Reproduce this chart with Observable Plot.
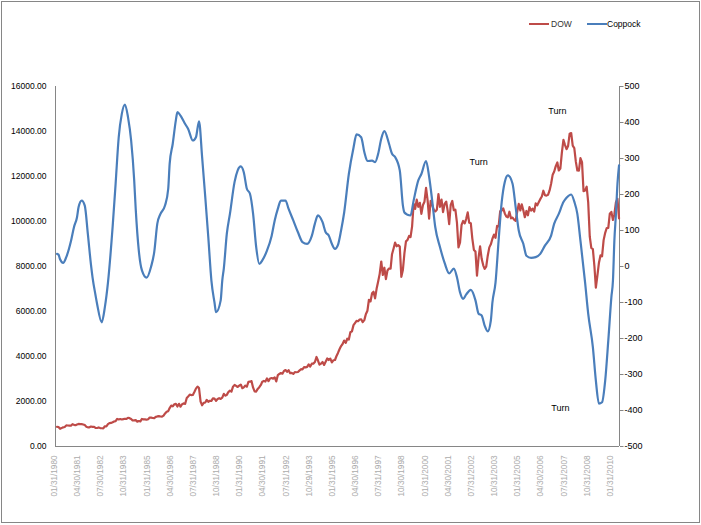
<!DOCTYPE html>
<html><head><meta charset="utf-8">
<script src="https://cdn.jsdelivr.net/npm/d3@7"></script>
<script src="https://cdn.jsdelivr.net/npm/@observablehq/plot@0.6"></script>
<style>
body{margin:0;background:#fff;font-family:"Liberation Sans",Arial,sans-serif;}
#wrap{position:relative;width:701px;height:525px;overflow:hidden;}
#chart{position:absolute;left:0;top:0;}
#border{position:absolute;left:1px;top:1px;width:697px;height:520px;border:1px solid #868686;pointer-events:none;}
.sw{position:absolute;height:2.5px;width:20px;top:22.5px;}
.lt{position:absolute;top:18.5px;font-size:8.5px;color:#000;line-height:10px;}
</style></head>
<body>
<div id="wrap">
  <div id="chart"></div>
  <div id="border"></div>
  <div class="sw" style="left:529px;background:#BE4B48"></div>
  <div class="lt" style="left:551px;color:#333">DOW</div>
  <div class="sw" style="left:587px;background:#4A7EBB"></div>
  <div class="lt" style="left:607px">Coppock</div>
</div>
<script>
// DOW monthly closes, Jan 1980 .. May 2010
const dowStart = "1980-01";
const dowValues = [
876,863,786,817,851,868,935,933,932,925,993,964,
947,975,1004,998,992,977,952,882,850,853,889,875,
871,824,823,848,820,812,809,901,896,992,1039,1047,
1076,1113,1130,1226,1200,1222,1199,1216,1233,1225,1276,1259,
1221,1155,1165,1171,1105,1132,1115,1224,1207,1207,1189,1212,
1287,1284,1267,1258,1315,1336,1348,1334,1329,1375,1472,1547,
1571,1709,1819,1784,1877,1893,1775,1898,1768,1878,1914,1896,
2158,2224,2305,2286,2292,2419,2572,2663,2596,1994,1834,1939,
1958,2072,1988,2032,2031,2142,2129,2032,2113,2149,2115,2169,
2342,2258,2294,2419,2480,2440,2661,2737,2693,2645,2706,2753,
2591,2627,2707,2657,2877,2881,2905,2614,2453,2442,2560,2634,
2736,2882,2914,2888,3028,2907,3025,3044,3017,3069,2895,3169,
3224,3267,3236,3359,3397,3319,3394,3257,3272,3226,3305,3301,
3310,3371,3435,3428,3527,3516,3540,3651,3555,3681,3684,3754,
3978,3832,3636,3682,3758,3625,3765,3913,3843,3908,3739,3834,
3844,4011,4158,4321,4465,4556,4709,4611,4789,4756,5075,5117,
5395,5486,5587,5569,5643,5655,5529,5616,5882,6029,6522,6448,
6813,6878,6584,7009,7331,7673,8223,7622,7945,7442,7823,7908,
7907,8546,8800,9063,8900,8952,8883,7539,7843,8592,9117,9181,
9359,9307,9786,10789,10560,10971,10655,10829,10337,10730,10878,11497,
10941,10128,10922,10734,10522,10448,10522,11215,10651,10971,10415,10787,
10887,10495,9879,10735,10912,10502,10523,9950,8848,9075,9852,10022,
9920,10106,10404,9946,9925,9243,8737,8664,7592,8397,8896,8342,
8054,7891,7992,8480,8850,8985,9234,9416,9275,9801,9782,10454,
10488,10584,10358,10226,10188,10435,10140,10174,10080,10027,10428,10783,
10490,10766,10504,10193,10467,10275,10641,10482,10569,10440,10806,10718,
10865,10993,11109,11367,11168,11150,11186,11381,11679,12081,12222,12463,
12622,12269,12354,13063,13628,13409,13212,13358,13896,13930,13372,13265,
12650,12266,12263,12820,12638,11350,11378,11544,10851,9325,8829,8776,
8001,7063,7609,8168,8500,8447,9172,9496,9712,9713,10345,10428,
10067,10325,10857,11009,10137
];

// Coppock curve (month, value)
const copMonths = [
"1980-01","1980-02","1980-03","1980-05","1980-07","1980-10","1980-12","1981-02","1981-03","1981-05",
"1981-07","1981-09","1981-11","1981-12","1982-02","1982-03","1982-06","1982-08","1982-10","1983-01",
"1983-03","1983-05","1983-07","1983-09","1983-11","1984-01","1984-03","1984-04","1984-06","1984-08",
"1984-11","1985-02","1985-04","1985-06","1985-08","1985-11","1986-01","1986-02","1986-04","1986-06",
"1986-07","1986-09","1986-12","1987-02","1987-05","1987-07","1987-09","1987-11","1988-01","1988-03",
"1988-05","1988-07","1988-08","1988-11","1988-12","1989-01","1989-03","1989-05","1989-08","1989-10",
"1989-12","1990-02","1990-04","1990-06","1990-08","1990-10","1990-12","1991-02","1991-05","1991-08",
"1991-10","1991-12","1992-02","1992-05","1992-07","1992-10","1993-01","1993-04","1993-07","1993-10",
"1993-12","1994-02","1994-05","1994-07","1994-09","1994-11","1995-01","1995-03","1995-05","1995-07",
"1995-10","1996-01","1996-03","1996-06","1996-08","1996-10","1997-01","1997-03","1997-05","1997-07",
"1997-09","1997-12","1998-02","1998-04","1998-07","1998-09","1998-10","1998-12","1999-02","1999-04",
"1999-07","1999-09","1999-12","2000-02","2000-04","2000-06","2000-09","2000-12","2001-03","2001-06",
"2001-08","2001-10","2001-12","2002-02","2002-05","2002-08","2002-10","2002-12","2003-02","2003-04",
"2003-06","2003-07","2003-09","2003-11","2004-01","2004-03","2004-05","2004-08","2004-10","2004-12",
"2005-03","2005-05","2005-08","2005-11","2006-02","2006-05","2006-09","2006-11","2007-02","2007-05",
"2007-07","2007-10","2007-12","2008-02","2008-04","2008-07","2008-09","2008-12","2009-02","2009-04",
"2009-06","2009-08","2009-10","2009-12","2010-01","2010-02","2010-03","2010-04","2010-05"
];
const copValues = [
35,33,20,10,26,70,110,137,165,183,
169,90,5,-30,-80,-104,-155,-113,-45,110,
230,359,424,450,415,350,240,160,44,-11,
-31,0,40,119,146,170,216,285,341,406,
429,419,396,382,350,359,403,304,193,81,
-39,-100,-127,-94,-39,-5,91,146,235,267,
278,262,216,202,146,54,7,17,44,85,
128,160,183,183,160,128,95,68,63,85,
119,142,123,95,86,63,49,60,100,150,
257,330,367,359,318,293,294,290,313,355,
376,341,313,304,267,170,150,144,142,183,
239,257,293,250,183,109,54,10,-19,-6,
-30,-72,-90,-78,-65,-94,-131,-136,-164,-180,
-150,-100,-45,72,180,235,253,230,165,100,
63,30,24,26,35,58,86,119,146,179,
191,200,180,146,72,-45,-131,-224,-317,-381,
-377,-317,-206,-85,-39,72,146,230,281
];

// Axis ticks and labels
const leftTicks = [0,2000,4000,6000,8000,10000,12000,14000,16000];
const rightTicks = [-500,-400,-300,-200,-100,0,100,200,300,400,500];
const xLabels = ["01/31/1980","04/30/1981","07/30/1982","10/31/1983","01/31/1985","04/30/1986",
"07/31/1987","10/31/1988","01/31/1990","04/30/1991","07/31/1992","10/29/1993","01/31/1995",
"04/30/1996","07/31/1997","10/30/1998","01/31/2000","04/30/2001","07/31/2002","10/31/2003",
"01/31/2005","04/30/2006","07/31/2007","10/31/2008","01/31/2010"];

// Annotations
const turnMonths = ["2002-10","2007-01","2007-03"];
const turnDow = [12650,14900,1700];
const turnText = ["Turn","Turn","Turn"];

const leftMin = 0, leftMax = 16000, rightMin = -500, rightMax = 500;
const toLeft = c => (c - rightMin) * (leftMax - leftMin) / (rightMax - rightMin);
const fromLeft = l => l * (rightMax - rightMin) / (leftMax - leftMin) + rightMin;

const monthEnd = s => { const [y, m] = s.split("-").map(Number); return new Date(Date.UTC(y, m, 0)); };
const [sy, sm] = dowStart.split("-").map(Number);
const dow = dowValues.map((v, i) => ({date: new Date(Date.UTC(sy, sm - 1 + i + 1, 0)), v}));
const cop = copMonths.map((s, i) => ({date: monthEnd(s), v: copValues[i]}));
const xl = xLabels.map(s => { const [mo, d, y] = s.split("/").map(Number); return {date: new Date(Date.UTC(y, mo - 1, d)), s}; });
const turns = turnMonths.map((s, i) => ({date: monthEnd(s), v: turnDow[i], t: turnText[i]}));

const xDomain = [new Date(Date.UTC(1980, 0, 1)), new Date(Date.UTC(2010, 5, 9))];

const chart = Plot.plot({
  width: 701, height: 525,
  marginLeft: 55, marginRight: 82, marginTop: 86, marginBottom: 79,
  style: {fontFamily: '"Liberation Sans", Arial, sans-serif', color: "#000", background: "transparent"},
  x: {type: "utc", domain: xDomain, axis: null},
  y: {domain: [leftMin, leftMax], axis: null},
  marks: [
    Plot.axisY(leftTicks, {anchor: "left", label: null, tickSize: 0, tickPadding: 9, fontSize: 8.5, tickFormat: d => d.toFixed(2)}),
    Plot.axisY(rightTicks.map(toLeft), {anchor: "right", label: null, tickSize: 3.5, tickPadding: 1.5, fontSize: 9, stroke: "#868686", strokeOpacity: 1, tickFormat: d => String(Math.round(fromLeft(d)))}),
    Plot.ruleX([xDomain[0], xDomain[1]], {stroke: "#868686", strokeWidth: 1}),
    Plot.ruleY([leftMin], {stroke: "#868686", strokeWidth: 1}),
    Plot.text(xl, {x: "date", text: "s", frameAnchor: "bottom", dy: 9, rotate: -90, textAnchor: "end", fontSize: 8.2, fill: "#ababab"}),
    Plot.line(dow, {x: "date", y: "v", stroke: "#BE4B48", strokeWidth: 2.2}),
    Plot.line(cop, {x: "date", y: d => toLeft(d.v), stroke: "#4A7EBB", strokeWidth: 2.2, curve: "monotone-x"}),
    Plot.text(turns, {x: "date", y: "v", text: "t", fontSize: 9, fill: "#000"})
  ]
});
document.getElementById("chart").appendChild(chart);
</script>
</body></html>
